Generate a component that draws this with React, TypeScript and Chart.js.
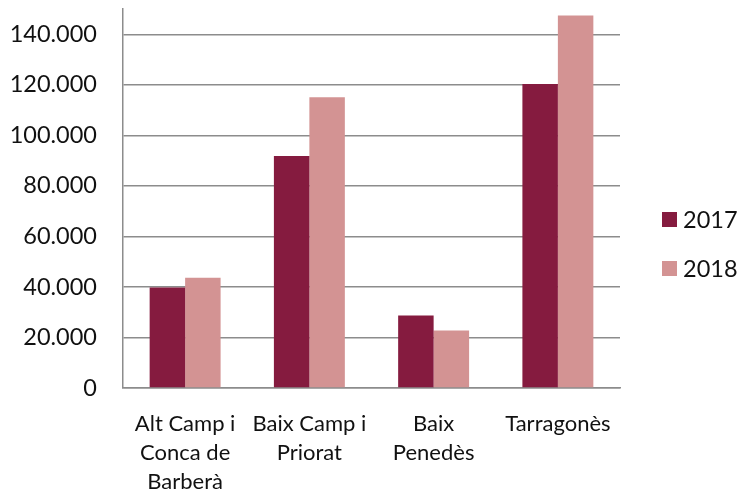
import React, { useEffect, useRef } from "react";
import { Chart, registerables } from "chart.js";

Chart.register(...registerables);

const comarques: string[][] = [
  ["Alt Camp i", "Conca de", "Barberà"],
  ["Baix Camp i", "Priorat"],
  ["Baix", "Penedès"],
  ["Tarragonès"],
];
const years: string[] = ["2017", "2018"];
const values2017: number[] = [39800, 91800, 28700, 120300];
const values2018: number[] = [43600, 115100, 22800, 147400];
const yTicks: number[] = [0, 20000, 40000, 60000, 80000, 100000, 120000, 140000];
const colors: string[] = ["#851B3F", "#D39393"];

const FONT = "Lato, 'Open Sans', sans-serif";
const GRID = "#8C8C8C";
const TEXT = "#111111";

const fmt = (v: number) =>
  String(Math.round(v)).replace(/\B(?=(\d{3})+(?!\d))/g, ".");

// Vertical legend drawn to the right of the plot
const sideLegend = {
  id: "sideLegend",
  afterDraw(chart: any) {
    const ctx = chart.ctx;
    const x = chart.chartArea.right + 42;
    const rows = [219.5, 268.5];
    ctx.save();
    ctx.font = `23.5px ${FONT}`;
    ctx.textBaseline = "middle";
    ctx.textAlign = "left";
    chart.data.datasets.forEach((ds: any, i: number) => {
      const y = rows[i];
      ctx.fillStyle = ds.backgroundColor;
      ctx.fillRect(x, y - 7.5, 15, 15);
      ctx.fillStyle = TEXT;
      ctx.fillText(ds.label, x + 21, y + 1);
    });
    ctx.restore();
  },
};

export default function App() {
  const ref = useRef<HTMLCanvasElement | null>(null);

  useEffect(() => {
    if (!ref.current) return;
    const chart = new Chart(ref.current, {
      type: "bar",
      data: {
        labels: comarques,
        datasets: [
          { label: years[0], data: values2017, backgroundColor: colors[0] },
          { label: years[1], data: values2018, backgroundColor: colors[1] },
        ],
      },
      options: {
        responsive: false,
        animation: false,
        layout: { padding: { top: 9, right: 121, left: 0, bottom: 0 } },
        datasets: {
          bar: { barPercentage: 1, categoryPercentage: 0.571 },
        },
        plugins: {
          legend: { display: false },
          tooltip: { enabled: false },
        },
        scales: {
          x: {
            grid: { display: false },
            border: { display: true, color: GRID, width: 1.5 },
            ticks: {
              color: TEXT,
              font: { family: FONT, size: 22, lineHeight: 1.3 },
              padding: 14,
              maxRotation: 0,
              autoSkip: false,
            },
            afterFit: (s: any) => {
              s.height = 106;
              s.paddingLeft = 0;
              s.paddingRight = 0;
            },
          },
          y: {
            min: 0,
            max: 150000,
            border: { display: true, color: GRID, width: 1.5 },
            grid: {
              drawTicks: false,
              lineWidth: 1.5,
              color: GRID,
            },
            afterBuildTicks: (s: any) => {
              s.ticks = yTicks.map((v) => ({ value: v }));
            },
            ticks: {
              padding: 26,
              color: TEXT,
              font: { family: FONT, size: 23.5 },
              callback: (v: any) => fmt(Number(v)),
            },
            afterFit: (s: any) => {
              s.width = 123;
              s.paddingTop = 0;
              s.paddingBottom = 0;
            },
          },
        },
      },
      plugins: [sideLegend],
    });
    return () => chart.destroy();
  }, []);

  return (
    <div style={{ position: "fixed", left: 0, top: 0, width: 741, height: 494, background: "#fff" }}>
      <canvas ref={ref} width={741} height={494} />
    </div>
  );
}
